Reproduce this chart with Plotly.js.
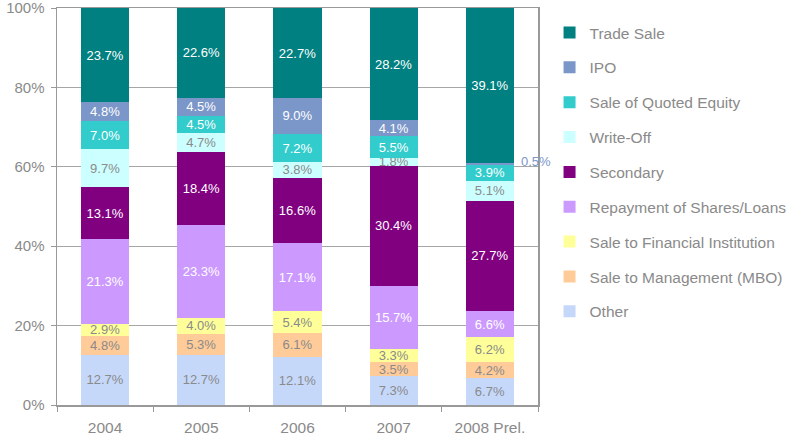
<!DOCTYPE html>
<html>
<head>
<meta charset="utf-8">
<script src="https://cdn.plot.ly/plotly-3.0.1.min.js"></script>
<style>html,body{margin:0;padding:0;background:#fff;}#chart{width:789px;height:441px;}</style>
</head>
<body>
<div id="chart"></div>
<script>
const years = ["2004", "2005", "2006", "2007", "2008 Prel."];
// series, bottom to top of each stack
const other      = [12.7, 12.7, 12.1, 7.3, 6.7];
const mbo        = [4.8, 5.3, 6.1, 3.5, 4.2];
const finInst    = [2.9, 4.0, 5.4, 3.3, 6.2];
const repayment  = [21.3, 23.3, 17.1, 15.7, 6.6];
const secondary  = [13.1, 18.4, 16.6, 30.4, 27.7];
const writeOff   = [9.7, 4.7, 3.8, 1.8, 5.1];
const quoted     = [7.0, 4.5, 7.2, 5.5, 3.9];
const ipo        = [4.8, 4.5, 9.0, 4.1, 0.5];
const tradeSale  = [23.7, 22.6, 22.7, 28.2, 39.1];
const yTicks = [0, 20, 40, 60, 80, 100];
const yTickLabels = ["0%", "20%", "40%", "60%", "80%", "100%"];

const gray = "#8a8a8a";
const series = [
  {name: "Other", v: other, c: "#c5d8fa", t: gray},
  {name: "Sale to Management (MBO)", v: mbo, c: "#ffcc99", t: gray},
  {name: "Sale to Financial Institution", v: finInst, c: "#ffff99", t: gray},
  {name: "Repayment of Shares/Loans", v: repayment, c: "#cc99ff", t: "#ffffff"},
  {name: "Secondary", v: secondary, c: "#800080", t: "#ffffff"},
  {name: "Write-Off", v: writeOff, c: "#ccffff", t: gray},
  {name: "Sale of Quoted Equity", v: quoted, c: "#33cccc", t: "#ffffff"},
  {name: "IPO", v: ipo, c: "#7b96c8", t: "#ffffff"},
  {name: "Trade Sale", v: tradeSale, c: "#008080", t: "#ffffff"}
];
const FONT = "Liberation Sans, Arial, sans-serif";

const traces = series.map((s, i) => ({
  type: "bar",
  name: s.name,
  legendgroup: "g" + i,
  legendrank: series.length - i,
  x: years,
  y: s.v,
  marker: {color: s.c, line: {width: 0}},
  // tiny IPO segment in 2008 gets an outside label instead
  text: s.v.map((v, j) => (s.name === "IPO" && v < 1) ? "" : v.toFixed(1) + "%"),
  textposition: "inside",
  insidetextanchor: "middle",
  textangle: 0,
  constraintext: "none",
  textfont: {family: FONT, size: 13, color: s.t},
  hoverinfo: "name+y"
}));

// outside label for the small 2008 IPO segment
const lastIdx = years.length - 1;
let cum = 0, total = 0;
series.forEach(s => {
  total += s.v[lastIdx];
  if (s.name !== "IPO" && s.name !== "Trade Sale") cum += s.v[lastIdx];
});
const ipoMid = (cum + ipo[lastIdx] / 2) / total * 100;

const layout = {
  width: 789, height: 441,
  margin: {l: 57, r: 251, t: 8, b: 36, autoexpand: false},
  paper_bgcolor: "#ffffff", plot_bgcolor: "#ffffff",
  barmode: "stack",
  barnorm: "percent",
  bargap: 0.5,
  showlegend: true,
  uniformtext: {mode: "show", minsize: 13},
  font: {family: FONT, color: gray},
  xaxis: {
    type: "category",
    range: [-0.5, years.length - 0.5],
    tickson: "boundaries",
    ticks: "outside", ticklen: 5, tickcolor: "#999999",
    showline: true, linecolor: "#999999", linewidth: 1.5, mirror: true,
    showgrid: false,
    tickfont: {family: FONT, size: 15.5, color: gray},
    ticklabelstandoff: 8
  },
  yaxis: {
    range: [0, 100],
    tickvals: yTicks, ticktext: yTickLabels,
    ticks: "outside", ticklen: 5, tickcolor: "#999999",
    ticklabeloverflow: "allow",
    ticklabelstandoff: 3,
    showline: true, linecolor: "#999999", linewidth: 1.5, mirror: true,
    showgrid: true, gridcolor: "#a6a6a6", gridwidth: 1,
    zeroline: false,
    tickfont: {family: FONT, size: 15, color: gray}
  },
  legend: {
    x: 1.024, xanchor: "left",
    y: 0.98, yanchor: "top",
    traceorder: "grouped",
    tracegroupgap: 11.7,
    itemwidth: 30,
    font: {family: FONT, size: 15.5, color: gray},
    bgcolor: "rgba(0,0,0,0)"
  },
  annotations: [{
    x: years[lastIdx], y: ipoMid, xref: "x", yref: "y",
    text: ipo[lastIdx].toFixed(1) + "%",
    showarrow: false, xanchor: "left", xshift: 29, yshift: 3,
    font: {family: FONT, size: 13, color: "#7b96c8"}
  }]
};

Plotly.newPlot("chart", traces, layout, {displayModeBar: false, staticPlot: true});
</script>
</body>
</html>
